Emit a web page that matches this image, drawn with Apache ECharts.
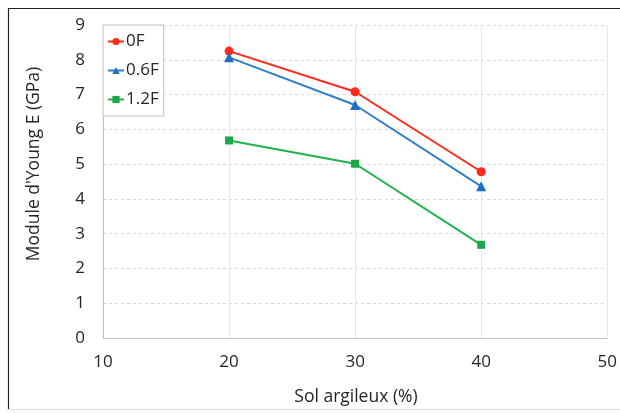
<!DOCTYPE html>
<html>
<head>
<meta charset="utf-8">
<script src="https://cdn.jsdelivr.net/npm/echarts@6/dist/echarts.min.js"></script>
<style>
html,body{margin:0;padding:0;background:#fff;}
#c{width:620px;height:413px;}
</style>
</head>
<body>
<div id="c"></div>
<script>
var xValues = [20, 30, 40];
var s0F = [8.25, 7.08, 4.78];
var s06F = [8.07, 6.70, 4.36];
var s12F = [5.68, 5.01, 2.68];
var seriesNames = ['0F', '0.6F', '1.2F'];
var xTitle = 'Sol argileux (%)';
var yTitle = "Module d'Young E (GPa)";

function pairs(v){ return xValues.map(function(x,i){ return [x, v[i]]; }); }

var FONT = 'Open Sans';
var chart = echarts.init(document.getElementById('c'), null, {renderer:'canvas'});
chart.setOption({
  animation: false,
  backgroundColor: '#fff',
  textStyle: {fontFamily: FONT},
  grid: {left: 103, right: 12, top: 25, bottom: 75, containLabel: false},
  xAxis: {
    type: 'value', min: 10, max: 50, interval: 10,
    axisLine: {show: true, lineStyle: {color: '#bfbfbf'}},
    axisTick: {show: false},
    axisLabel: {color: '#262626', fontSize: 17, fontFamily: FONT, margin: 16},
    splitLine: {show: true, lineStyle: {color: '#e6e6e6', type: 'solid'}}
  },
  yAxis: {
    type: 'value', min: 0, max: 9, interval: 1,
    axisLine: {show: true, lineStyle: {color: '#bfbfbf'}},
    axisTick: {show: false},
    axisLabel: {color: '#262626', fontSize: 17, fontFamily: FONT, margin: 18},
    splitLine: {show: true, lineStyle: {color: '#d9d9d9', type: [3, 3]}}
  },
  legend: {
    left: 103, top: 25, orient: 'vertical',
    itemWidth: 16, itemHeight: 9, itemGap: 12,
    padding: [8, 5, 8, 4],
    backgroundColor: '#fff', borderColor: '#bfbfbf', borderWidth: 1,
    textStyle: {color: '#262626', fontSize: 17, fontFamily: FONT, padding: [0,0,0,-3]},
    data: seriesNames
  },
  series: [
    {name: seriesNames[0], type: 'line', data: pairs(s0F), symbol: 'circle', symbolSize: 9,
     lineStyle: {color: '#ff2a1a', width: 2}, itemStyle: {color: '#ff2a1a'}},
    {name: seriesNames[1], type: 'line', data: pairs(s06F), symbol: 'triangle', symbolSize: 10,
     lineStyle: {color: '#2f7fc8', width: 2}, itemStyle: {color: '#1f6fc0'}},
    {name: seriesNames[2], type: 'line', data: pairs(s12F), symbol: 'rect', symbolSize: 8,
     lineStyle: {color: '#22b14c', width: 2}, itemStyle: {color: '#1aa84a'}}
  ],
  graphic: [
    {type: 'text', x: 356, y: 397, style: {text: xTitle, fill: '#262626', font: '17.5px "Open Sans"', textAlign: 'center', textVerticalAlign: 'middle'}},
    {type: 'text', rotation: Math.PI/2, x: 34, y: 164, style: {text: yTitle, fill: '#262626', font: '17.5px "Open Sans"', textAlign: 'center', textVerticalAlign: 'middle'}},
    {type: 'line', shape: {x1: 8, y1: 8.5, x2: 620, y2: 8.5}, style: {stroke: '#222', lineWidth: 1.2}},
    {type: 'line', shape: {x1: 8.5, y1: 8, x2: 8.5, y2: 410}, style: {stroke: '#222', lineWidth: 1.2}},
    {type: 'line', shape: {x1: 8, y1: 409.5, x2: 620, y2: 409.5}, style: {stroke: '#e0e0e0', lineWidth: 1}}
  ]
});
</script>
</body>
</html>
